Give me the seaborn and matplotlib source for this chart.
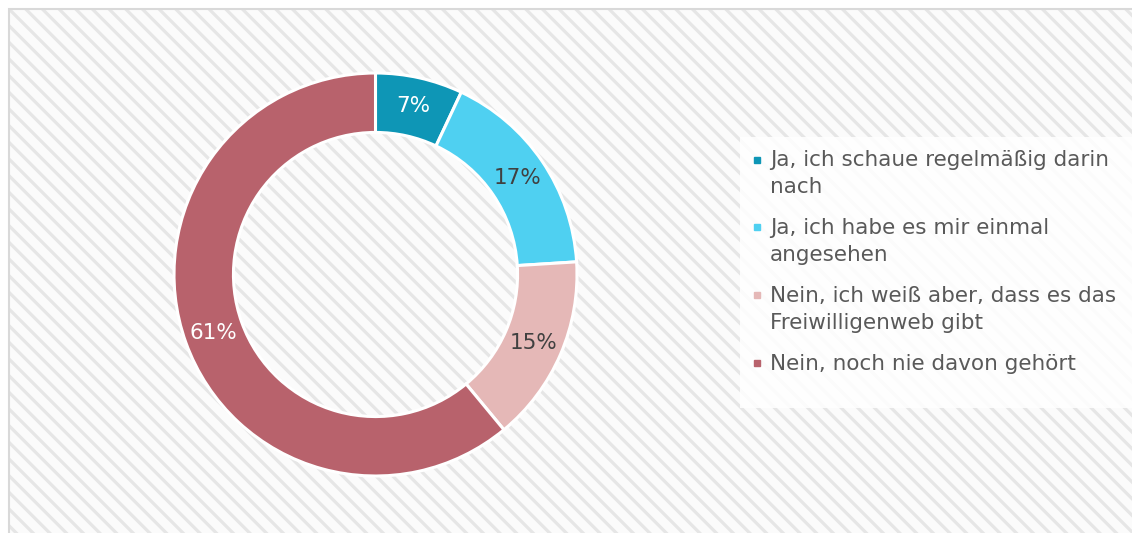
import matplotlib
matplotlib.use("Agg")
import numpy as np
import matplotlib.pyplot as plt
from matplotlib.patches import Rectangle
from matplotlib.lines import Line2D
import seaborn as sns

labels = [
    "Ja, ich schaue regelmäßig darin\nnach",
    "Ja, ich habe es mir einmal\nangesehen",
    "Nein, ich weiß aber, dass es das\nFreiwilligenweb gibt",
    "Nein, noch nie davon gehört",
]
shares = [7, 17, 15, 61]
pct_text = ["7%", "17%", "15%", "61%"]
colors = ["#0e96b6", "#4fd0f1", "#e5b8b7", "#b8626c"]
pct_colors = ["white", "#404040", "#404040", "white"]

sns.set_theme(style="white")
plt.rcParams["font.family"] = ["DejaVu Sans"]
plt.rcParams["hatch.linewidth"] = 2.3

W, H = 1132, 533
FS = 15.5
fig = plt.figure(figsize=(W / 100, H / 100), dpi=100)
fig.patch.set_facecolor("white")

# striped background + thin border on the left/top
bg = Rectangle((8.5 / W, -0.1), 1.2, 1.1 - 9.5 / H, transform=fig.transFigure,
               facecolor="#fbfbfb", edgecolor="#e6e6e6", linewidth=0,
               hatch="\\\\", zorder=-3)
fig.patches.append(bg)
border = Rectangle((8.5 / W, -0.1), 1.2, 1.1 - 9.5 / H, transform=fig.transFigure,
                   facecolor="none", edgecolor="#d9d9d9", linewidth=1.5, zorder=-2)
fig.patches.append(border)

# legend backdrop
box = Rectangle((740 / W, 1 - 408 / H), 0.4, (408 - 137) / H, transform=fig.transFigure,
                facecolor="white", alpha=0.85, edgecolor="none", zorder=-1)
fig.patches.append(box)

R = 201.5
cx, cy = 375.5, H - 274.5
ax = fig.add_axes([(cx - R) / W, (cy - R) / H, 2 * R / W, 2 * R / H])
ax.set_facecolor("none")

wedges, _ = ax.pie(shares, colors=colors, startangle=90, counterclock=False,
                   radius=1.0,
                   wedgeprops=dict(width=0.295, edgecolor="white", linewidth=2.2))

cum = np.cumsum([0] + shares[:-1])
for s, c0, txt, tc in zip(shares, cum, pct_text, pct_colors):
    ang = np.deg2rad(90 - 360 * (c0 + s / 2) / sum(shares))
    ax.text(0.855 * np.cos(ang), 0.855 * np.sin(ang), txt, ha="center", va="center",
            fontsize=FS, color=tc)

ax.set_xlim(-1, 1)
ax.set_ylim(-1, 1)
ax.set_aspect("equal")
ax.axis("off")

handles = [Line2D([], [], linestyle="none", marker="s", markersize=5,
                  markerfacecolor=c, markeredgecolor=c) for c in colors]
leg = fig.legend(handles, labels, loc="upper left", bbox_to_anchor=(750.5 / W, 1 - 150.5 / H),
                 frameon=False, borderpad=0, borderaxespad=0, handlelength=0.6,
                 handleheight=1.2, handletextpad=0.3, labelspacing=0.98,
                 fontsize=FS, labelcolor="#595959")
for t in leg.get_texts():
    t.set_linespacing(1.42)
# put the square next to the first line of each label
for col in leg._legend_handle_box.get_children():
    for item in col.get_children():
        item.align = "top"

fig.savefig("out.png", dpi=100)
